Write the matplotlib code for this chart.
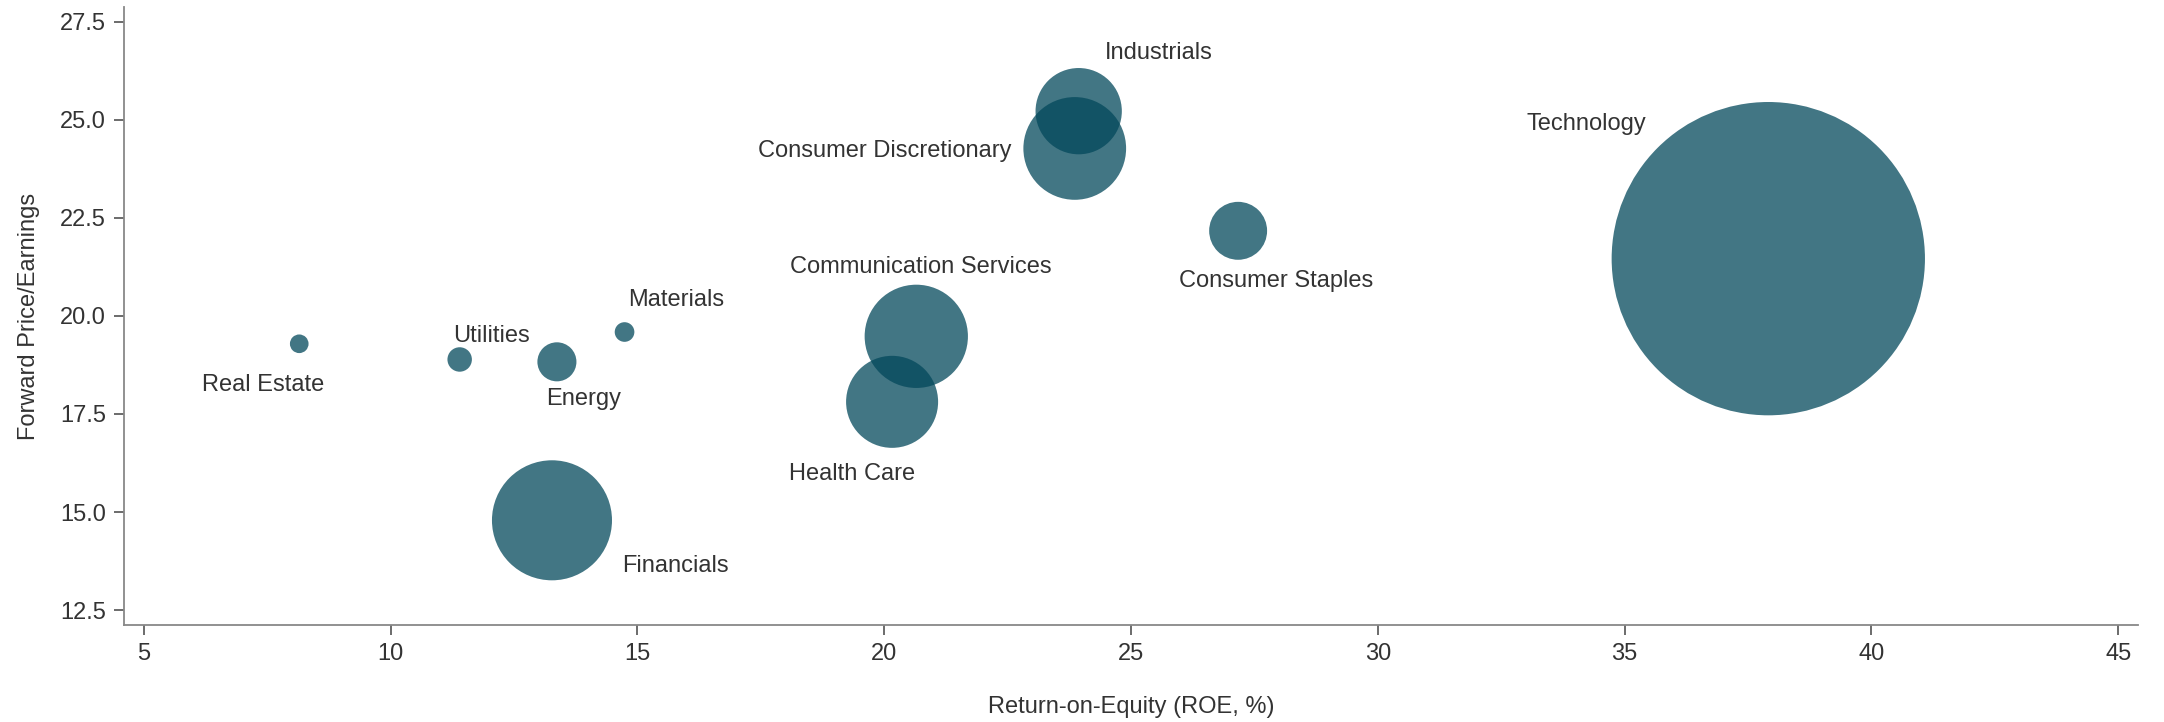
"""Forward P/E vs ROE by sector, bubble size = sector size."""
import matplotlib
matplotlib.use("Agg")
import matplotlib.pyplot as plt

plt.rcParams['font.family'] = ['Liberation Sans', 'DejaVu Sans']

sectors = ['Real Estate', 'Utilities', 'Energy', 'Materials', 'Financials',
           'Communication Services', 'Health Care', 'Industrials',
           'Consumer Discretionary', 'Consumer Staples', 'Technology']
roe = [8.15, 11.40, 13.37, 14.74, 13.27, 20.65, 20.16, 23.94, 23.86, 27.17, 37.91]
fwd_pe = [19.29, 18.89, 18.83, 19.59, 14.79, 19.48, 17.81, 25.22, 24.27, 22.17, 21.46]
bubble_size = [18, 31, 79, 20, 747, 553, 439, 386, 547, 174, 5089]

x_ticks = [5, 10, 15, 20, 25, 30, 35, 40, 45]
y_ticks = [12.5, 15.0, 17.5, 20.0, 22.5, 25.0, 27.5]

# label placement (offset points from bubble centre)
label_offsets = {
    'Real Estate': (-26, -30), 'Utilities': (23, 17), 'Energy': (19, -27),
    'Materials': (37, 23), 'Financials': (89, -33),
    'Communication Services': (3, 50), 'Health Care': (-29, -52),
    'Industrials': (58, 42), 'Consumer Discretionary': (-137, -2),
    'Consumer Staples': (27, -36), 'Technology': (-131, 97),
}

text_color = '#333333'
fig = plt.figure(figsize=(21.64, 7.22), dpi=100)
ax = fig.add_axes([0.0573, 0.1343, 0.9307, 0.8557])

ax.scatter(roe, fwd_pe, s=[v * 10 for v in bubble_size], color='#03485b',
           alpha=0.75, linewidths=0)

for name, x, y in zip(sectors, roe, fwd_pe):
    ax.annotate(name, (x, y), xytext=label_offsets[name], textcoords='offset points',
                ha='center', va='center', fontsize=17, color=text_color)

ax.set_xlim(4.6, 45.4)
ax.set_ylim(12.12, 27.87)
ax.set_xticks(x_ticks)
ax.set_yticks(y_ticks)
ax.set_yticklabels([f'{v:.1f}' for v in y_ticks])

ax.set_xlabel('Return-on-Equity (ROE, %)', fontsize=17, color=text_color, labelpad=22)
ax.set_ylabel('Forward Price/Earnings', fontsize=17, color=text_color, labelpad=14)

for side in ['top', 'right']:
    ax.spines[side].set_visible(False)
for side in ['left', 'bottom']:
    ax.spines[side].set_color('#888888')
    ax.spines[side].set_linewidth(1.3)
ax.tick_params(length=7, width=1.1, color='#444444', labelsize=17,
               labelcolor=text_color, pad=6)

fig.savefig('out.png', dpi=100)
